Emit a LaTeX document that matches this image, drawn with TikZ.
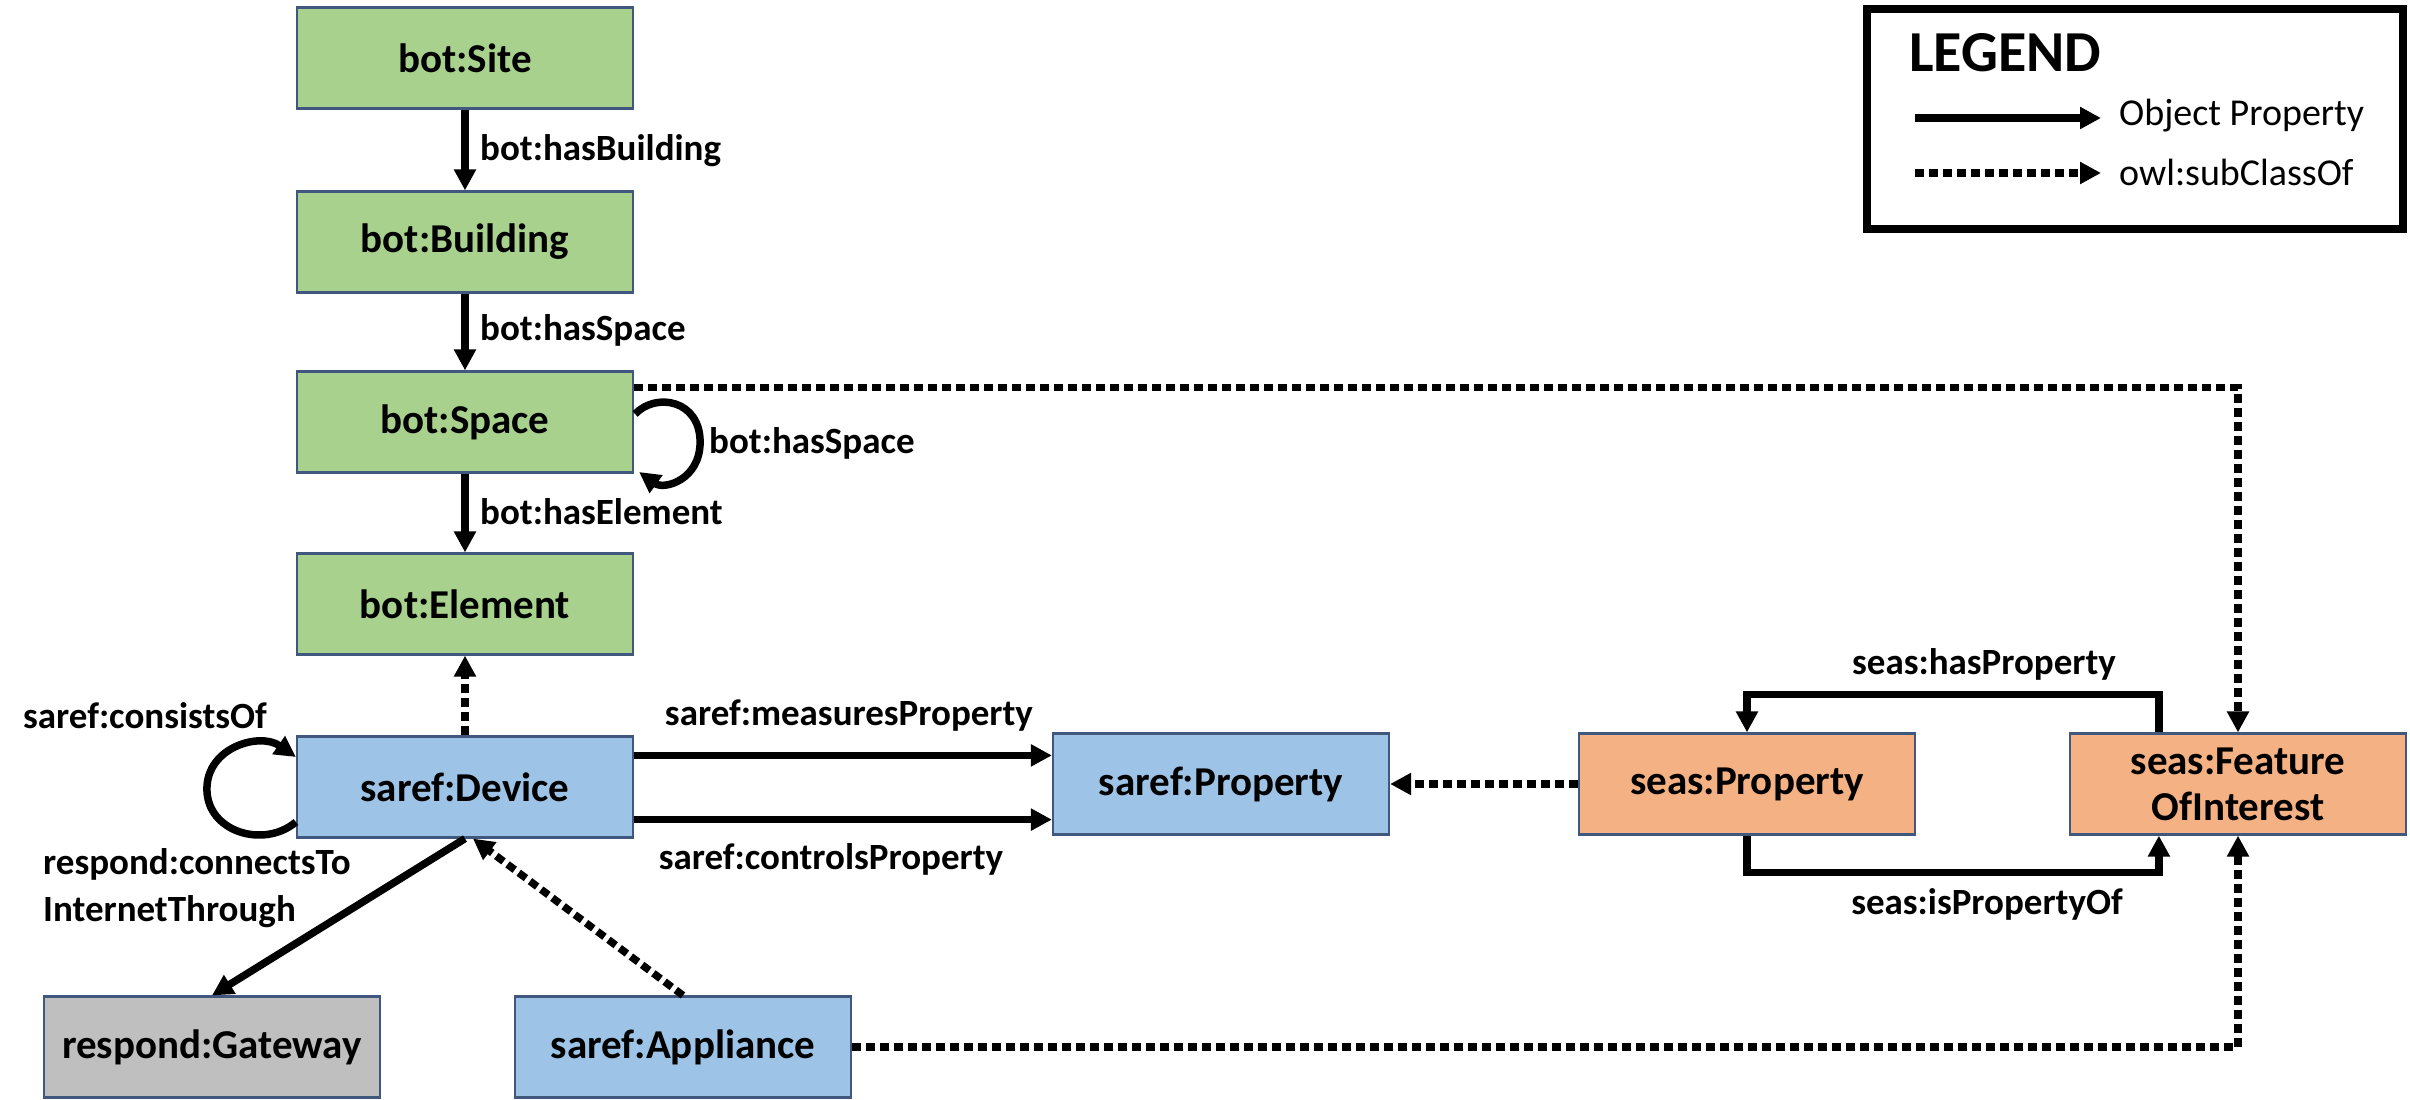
\documentclass[tikz,border=0pt]{standalone}
\usepackage{fontspec}
\setmainfont{Carlito}
\usetikzlibrary{arrows.meta,calc}
\definecolor{boxgreen}{HTML}{A9D18E}
\definecolor{boxblue}{HTML}{9DC3E6}
\definecolor{boxorange}{HTML}{F4B183}
\definecolor{boxgray}{HTML}{BFBFBF}
\definecolor{boxedge}{HTML}{41587E}
\tikzset{
  cls/.style={draw=boxedge, line width=2.2pt, minimum width=336pt, minimum height=101pt,
    inner sep=0pt, align=center, font=\fontsize{41}{46}\selectfont\bfseries},
  lbl/.style={font=\fontsize{37}{44}\selectfont\bfseries, inner sep=0pt, align=left},
  legtxt/.style={font=\fontsize{38}{44}\selectfont, inner sep=0pt, anchor=west},
  rel/.style={line width=7.5pt, -{Triangle[width=21pt,length=21pt]}},
  sub/.style={line width=7.5pt, dash pattern=on 9pt off 5pt, -{Triangle[width=21pt,length=21pt]}},
}
\begin{document}
\begin{tikzpicture}[x=1pt,y=-1pt]
\fill[white] (0,0) rectangle (2410,1100);
\useasboundingbox (0,0) rectangle (2410,1100);

% class nodes
\node[cls, fill=boxgreen] (site)  at (465,58)   {bot:Site};
\node[cls, fill=boxgreen] (bldg)  at (465,242)  {bot:Building};
\node[cls, fill=boxgreen] (space) at (465,422)  {bot:Space};
\node[cls, fill=boxgreen] (elem)  at (465,604)  {bot:Element};
\node[cls, fill=boxblue]  (dev)   at (465,787)  {saref:Device};
\node[cls, fill=boxblue]  (sprop) at (1221,784) {saref:Property};
\node[cls, fill=boxorange] (eprop) at (1747,784) {seas:Property};
\node[cls, fill=boxorange] (foi)  at (2238,784) {seas:Feature\\OfInterest};
\node[cls, fill=boxgray]  (gw)    at (212,1047) {respond:Gateway};
\node[cls, fill=boxblue]  (app)   at (683,1047) {saref:Appliance};

% bot chain
\draw[rel] (site) -- (bldg);
\draw[rel] (bldg) -- (space);
\draw[rel] (space) -- (elem);
\node[lbl, anchor=west] (lhb) at (480,151) {bot:hasBuilding};
\node[lbl, anchor=west] (lhs) at (480,330) {bot:hasSpace};
\node[lbl, anchor=west] (lhe) at (480,512) {bot:hasElement};

% space self loop
\draw[rel] ($(space.east)+(1,-8)$) .. controls ($(space.east)+(22,-30)$) and ($(space.east)+(66,-22)$) .. ($(space.east)+(66,20)$)
  .. controls ($(space.east)+(66,58)$) and ($(space.east)+(30,68)$) .. ($(space.east)+(5,50)$);
\node[lbl, anchor=west] (lhs2) at (709,443) {bot:hasSpace};

% device
\draw[sub] (dev) -- (elem);
\draw[rel] ($(dev.west)+(0,35)$) .. controls ($(dev.west)+(-32,62)$) and ($(dev.west)+(-89,45)$) .. ($(dev.west)+(-89,2)$)
  .. controls ($(dev.west)+(-89,-40)$) and ($(dev.west)+(-36,-55)$) .. ($(dev.west)+(0,-30)$);
\node[lbl, anchor=west] (lco) at (23,716) {saref:consistsOf};

\draw[rel] (dev.south) -- (gw.north);
\node[lbl, anchor=north west, font=\fontsize{37}{47}\selectfont\bfseries] (lct) at (43,848) {respond:connectsTo\\InternetThrough};
\draw[sub] (app.north) -- ($(dev.south)+(8,0)$);

\draw[rel] ($(dev.north east)+(0,20)$) coordinate (m1) -- (m1 -| sprop.west);
\draw[rel] ($(dev.south east)+(0,-19)$) coordinate (c1) -- (c1 -| sprop.west);
\node[lbl] (lmp) at (849,716) {saref:measuresProperty};
\node[lbl] (lcp) at (831,859) {saref:controlsProperty};

% seas
\draw[sub] (eprop) -- (sprop);
\draw[rel] ($(foi.north west)+(90,0)$) -- ++(0,-38) -| (eprop.north);
\draw[rel] (eprop.south) -- ++(0,37) -| ($(foi.south west)+(90,0)$);
\node[lbl] (lhp) at (1984,664) {seas:hasProperty};
\node[lbl] (lip) at (1987,904) {seas:isPropertyOf};

% subclass lines to FOI
\draw[sub] ($(space.north east)+(0,17)$) -| (foi.north);
\draw[sub] (app.east) -| (foi.south);

% legend
\node[draw, line width=8pt, minimum width=536pt, minimum height=220pt, inner sep=0pt] (leg) at (2135,119) {};
\node[anchor=west, inner sep=0pt, font=\fontsize{58}{64}\selectfont\bfseries] (legt) at (1909,53) {LEGEND};
\coordinate (la1) at (1915,118);
\coordinate (lb1) at (2101,118);
\coordinate (la2) at (1915,173);
\coordinate (lb2) at (2101,173);
\draw[rel] (la1) -- (lb1);
\draw[sub] (la2) -- (lb2);
\node[legtxt] (lop) at (2119,116) {Object Property};
\node[legtxt] (lsc) at (2119,172) {owl:subClassOf};
\end{tikzpicture}
\end{document}
